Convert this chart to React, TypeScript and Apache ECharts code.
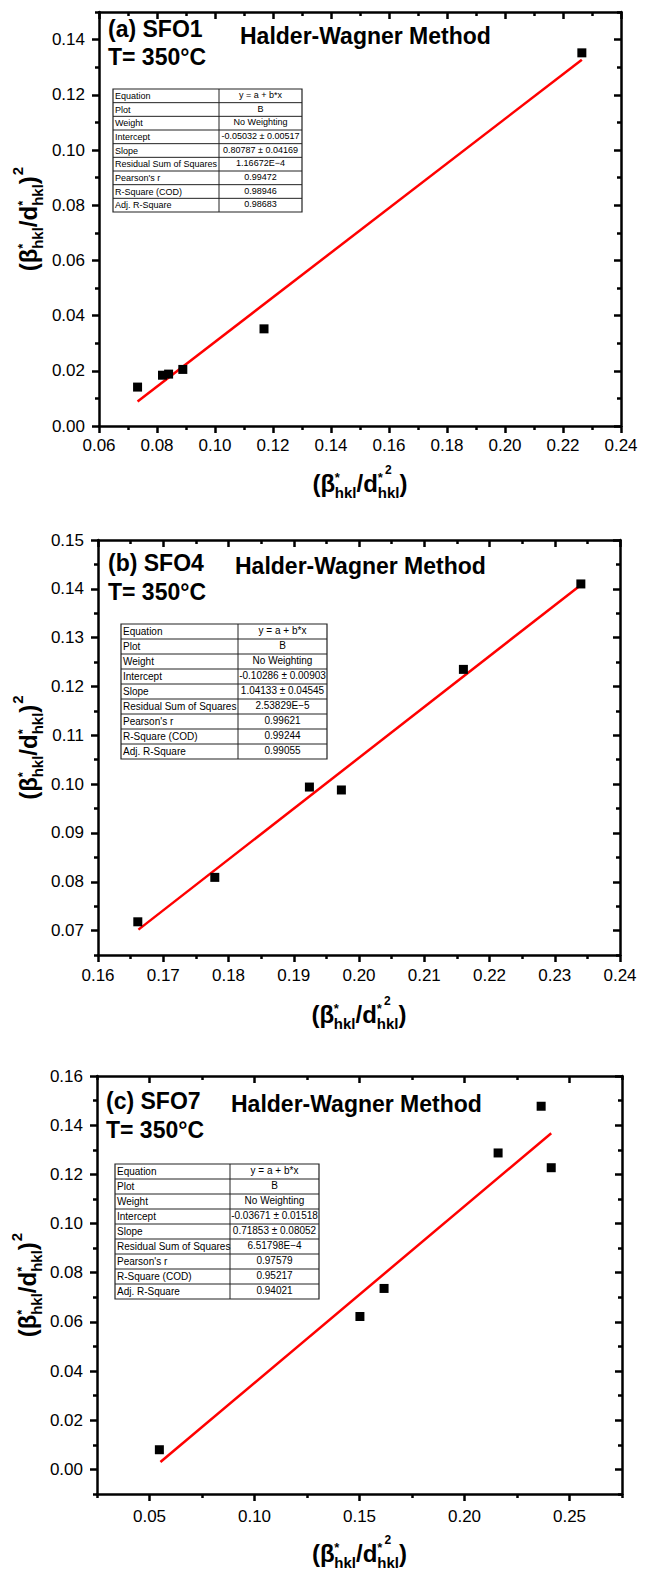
import React, { useEffect, useRef } from "react";
import * as echarts from "echarts";

const FONT = "'Liberation Sans', Arial, Helvetica, sans-serif";

// ---------- data ----------
// Panel (a) SFO1
const aX = [0.0733, 0.0819, 0.084, 0.0889, 0.1169, 0.2265];
const aY = [0.0141, 0.0184, 0.0188, 0.0205, 0.0352, 0.1352];
const aFit = [[0.0733, 0.0089], [0.2265, 0.1327]];
// Panel (b) SFO4
const bX = [0.1661, 0.1779, 0.1924, 0.1973, 0.216, 0.234];
const bY = [0.0718, 0.0809, 0.0994, 0.0988, 0.1235, 0.141];
const bFit = [[0.1662, 0.0702], [0.234, 0.1408]];
// Panel (c) SFO7
const cX = [0.0547, 0.1502, 0.1617, 0.216, 0.2365, 0.2413];
const cY = [0.008, 0.0622, 0.0736, 0.1287, 0.1477, 0.1227];
const cFit = [[0.0552, 0.003], [0.2413, 0.1367]];

// tick values
const aXMajor = [0.06, 0.08, 0.1, 0.12, 0.14, 0.16, 0.18, 0.2, 0.22, 0.24];
const aXMinor = [0.07, 0.09, 0.11, 0.13, 0.15, 0.17, 0.19, 0.21, 0.23];
const aYMajor = [0, 0.02, 0.04, 0.06, 0.08, 0.1, 0.12, 0.14];
const aYMinor = [0.01, 0.03, 0.05, 0.07, 0.09, 0.11, 0.13, 0.15];
const bXMajor = [0.16, 0.17, 0.18, 0.19, 0.2, 0.21, 0.22, 0.23, 0.24];
const bXMinor = [0.165, 0.175, 0.185, 0.195, 0.205, 0.215, 0.225, 0.235];
const bYMajor = [0.07, 0.08, 0.09, 0.1, 0.11, 0.12, 0.13, 0.14, 0.15];
const bYMinor = [0.065, 0.075, 0.085, 0.095, 0.105, 0.115, 0.125, 0.135, 0.145];
const cXMajor = [0.05, 0.1, 0.15, 0.2, 0.25];
const cXMinor = [0.025, 0.075, 0.125, 0.175, 0.225, 0.275];
const cYMajor = [0, 0.02, 0.04, 0.06, 0.08, 0.1, 0.12, 0.14, 0.16];
const cYMinor = [-0.01, 0.01, 0.03, 0.05, 0.07, 0.09, 0.11, 0.13, 0.15];

// fit tables
const rowNames = ["Equation", "Plot", "Weight", "Intercept", "Slope", "Residual Sum of Squares", "Pearson's r", "R-Square (COD)", "Adj. R-Square"];
const tableA = ["y = a + b*x", "B", "No Weighting", "-0.05032 ± 0.00517", "0.80787 ± 0.04169", "1.16672E\u22124", "0.99472", "0.98946", "0.98683"];
const tableB = ["y = a + b*x", "B", "No Weighting", "-0.10286 ± 0.00903", "1.04133 ± 0.04545", "2.53829E\u22125", "0.99621", "0.99244", "0.99055"];
const tableC = ["y = a + b*x", "B", "No Weighting", "-0.03671 ± 0.01518", "0.71853 ± 0.08052", "6.51798E\u22124", "0.97579", "0.95217", "0.94021"];

const panelLabels = ["(a) SFO1", "(b) SFO4", "(c) SFO7"];
const tempLabel = "T= 350°C";
const methodTitle = "Halder-Wagner Method";

// ---------- layout ----------
const panels = [
  {
    grid: { left: 99, top: 12, width: 522, height: 414 },
    xr: [0.06, 0.24], yr: [0, 0.15],
    xMaj: aXMajor, xMin: aXMinor, yMaj: aYMajor, yMin: aYMinor,
    xs: aX, ys: aY, fit: aFit, table: tableA,
    tbl: { x: 113, y: 89, w: 189, h: 123, split: 106, fs: 9 },
    lab: { x: 108, y1: 29, y2: 57 }, ttl: { x: 240, y: 36 },
    xLabMargin: 11, xTitleY: 483, yTitleX: 28,
  },
  {
    grid: { left: 98, top: 540, width: 522, height: 415 },
    xr: [0.16, 0.24], yr: [0.065, 0.15],
    xMaj: bXMajor, xMin: bXMinor, yMaj: bYMajor, yMin: bYMinor,
    xs: bX, ys: bY, fit: bFit, table: tableB,
    tbl: { x: 121, y: 624, w: 206, h: 135, split: 117, fs: 10 },
    lab: { x: 108, y1: 563, y2: 592 }, ttl: { x: 235, y: 566 },
    xLabMargin: 12, xTitleY: 1014, yTitleX: 28,
  },
  {
    grid: { left: 97, top: 1076, width: 525, height: 418 },
    xr: [0.025, 0.275], yr: [-0.01, 0.16],
    xMaj: cXMajor, xMin: cXMinor, yMaj: cYMajor, yMin: cYMinor,
    xs: cX, ys: cY, fit: cFit, table: tableC,
    tbl: { x: 115, y: 1164, w: 204, h: 135, split: 115, fs: 10 },
    lab: { x: 106, y1: 1101, y2: 1130 }, ttl: { x: 231, y: 1104 },
    xLabMargin: 14, xTitleY: 1553, yTitleX: 27,
  },
];

const black = "#000";
const LW = 2.5;

function axesFor(g: number, kind: "x" | "y", range: number[], major: number[], minor: number[], labelMargin: number) {
  const pos = kind === "x" ? ["bottom", "top"] : ["left", "right"];
  const base: any = { type: "value", gridIndex: g, min: range[0], max: range[1], splitLine: { show: false }, axisPointer: { show: false } };
  const ls = { color: black, width: LW };
  return [
    {
      ...base, position: pos[0],
      axisLine: { show: true, onZero: false, lineStyle: ls },
      axisTick: { show: true, inside: false, length: 7, customValues: major, lineStyle: ls },
      axisLabel: {
        show: true, customValues: major, margin: labelMargin, fontSize: 17, color: black, fontFamily: FONT,
        formatter: (v: number) => v.toFixed(2),
      },
    },
    {
      ...base, position: pos[0],
      axisLine: { show: false, onZero: false },
      axisTick: { show: true, inside: false, length: 4, customValues: minor, lineStyle: ls },
      axisLabel: { show: false },
    },
    {
      ...base, position: pos[1],
      axisLine: { show: true, onZero: false, lineStyle: ls },
      axisTick: { show: true, inside: true, length: 7, customValues: major, lineStyle: ls },
      axisLabel: { show: false },
    },
    {
      ...base, position: pos[1],
      axisLine: { show: false, onZero: false },
      axisTick: { show: true, inside: true, length: 4, customValues: minor, lineStyle: ls },
      axisLabel: { show: false },
    },
  ];
}

// Build an axis title "(β*hkl/d*hkl)" with stacked sub/superscripts
function titlePieces(withOuterSquare: boolean) {
  const F = 24, S = 15, SS = 13, S2 = 12;
  const pieces: any[] = [];
  let x = 0;
  const main = (t: string, w: number) => { pieces.push({ t, x, dy: 0, size: F }); x += w * F; };
  const stack = (two: boolean) => {
    pieces.push({ t: "*", x, dy: -6, size: SS });
    if (two) pieces.push({ t: "2", x: x + 0.389 * SS + 2, dy: -13, size: S2 });
    pieces.push({ t: "hkl", x, dy: 9, size: S });
    x += 1.445 * S;
  };
  main("(", 0.333);
  main("β", 0.6);
  stack(false);
  main("/", 0.278);
  main("d", 0.611);
  stack(!withOuterSquare);
  main(")", 0.333);
  if (withOuterSquare) {
    x += 1;
    pieces.push({ t: "2", x, dy: -11, size: S });
    x += 0.556 * S;
  }
  return { pieces, W: x };
}

function titleGroup(cx: number, cy: number, vertical: boolean) {
  const { pieces, W } = titlePieces(vertical);
  return {
    type: "group",
    x: cx,
    y: cy,
    rotation: vertical ? Math.PI / 2 : 0,
    children: pieces.map((p) => ({
      type: "text",
      x: p.x - W / 2,
      y: p.dy,
      style: {
        text: p.t, fontSize: p.size, fontWeight: "bold", fontFamily: FONT, fill: black,
        align: "left", verticalAlign: "middle",
      },
    })),
  };
}

function tableGroup(t: any, values: string[]) {
  const rh = t.h / rowNames.length;
  const children: any[] = [];
  children.push({ type: "rect", shape: { x: 0, y: 0, width: t.w, height: t.h }, style: { fill: "#fff", stroke: "#222", lineWidth: 1.2 } });
  for (let i = 1; i < rowNames.length; i++) {
    children.push({ type: "line", shape: { x1: 0, y1: i * rh, x2: t.w, y2: i * rh }, style: { stroke: "#222", lineWidth: 1 } });
  }
  children.push({ type: "line", shape: { x1: t.split, y1: 0, x2: t.split, y2: t.h }, style: { stroke: "#222", lineWidth: 1 } });
  rowNames.forEach((n, i) => {
    children.push({
      type: "text", x: 2, y: i * rh + rh / 2,
      style: { text: n, fontSize: t.fs, fontFamily: FONT, fill: black, align: "left", verticalAlign: "middle" },
    });
    children.push({
      type: "text", x: t.split + (t.w - t.split) / 2, y: i * rh + rh / 2 - 1,
      style: { text: values[i], fontSize: t.fs, fontFamily: FONT, fill: black, align: "center", verticalAlign: "middle" },
    });
  });
  return { type: "group", x: t.x, y: t.y, children };
}

export default function App() {
  const ref = useRef<HTMLDivElement>(null);
  useEffect(() => {
    document.body.style.margin = "0";
    if (!ref.current) return;
    const chart = echarts.init(ref.current, undefined, { renderer: "svg" });
    const grid: any[] = [];
    const xAxis: any[] = [];
    const yAxis: any[] = [];
    const series: any[] = [];
    const graphic: any[] = [];
    panels.forEach((p, g) => {
      grid.push({ ...p.grid });
      xAxis.push(...axesFor(g, "x", p.xr, p.xMaj, p.xMin, p.xLabMargin));
      yAxis.push(...axesFor(g, "y", p.yr, p.yMaj, p.yMin, 14));
      series.push({
        type: "scatter", xAxisIndex: 4 * g, yAxisIndex: 4 * g,
        symbol: "rect", symbolSize: 9, itemStyle: { color: black, opacity: 1 },
        data: p.xs.map((x, i) => [x, p.ys[i]]), z: 3,
      });
      series.push({
        type: "line", xAxisIndex: 4 * g, yAxisIndex: 4 * g,
        showSymbol: false, symbol: "none", lineStyle: { color: "#ff0000", width: 2.5 },
        data: p.fit, z: 2,
      });
      const cx = p.grid.left + p.grid.width / 2;
      const cy = p.grid.top + p.grid.height / 2;
      graphic.push(titleGroup(cx, p.xTitleY, false));
      graphic.push(titleGroup(p.yTitleX, cy, true));
      graphic.push(tableGroup(p.tbl, p.table));
      const bold = { fontSize: 23, fontWeight: "bold", fontFamily: FONT, fill: black, align: "left", verticalAlign: "middle" };
      graphic.push({ type: "text", x: p.lab.x, y: p.lab.y1, style: { ...bold, text: panelLabels[g] } });
      graphic.push({ type: "text", x: p.lab.x, y: p.lab.y2, style: { ...bold, text: tempLabel } });
      graphic.push({ type: "text", x: p.ttl.x, y: p.ttl.y, style: { ...bold, text: methodTitle } });
    });
    chart.setOption({
      animation: false,
      backgroundColor: "#fff",
      grid, xAxis, yAxis, series, graphic,
    });
    return () => chart.dispose();
  }, []);
  return <div ref={ref} style={{ width: 645, height: 1569 }} />;
}
